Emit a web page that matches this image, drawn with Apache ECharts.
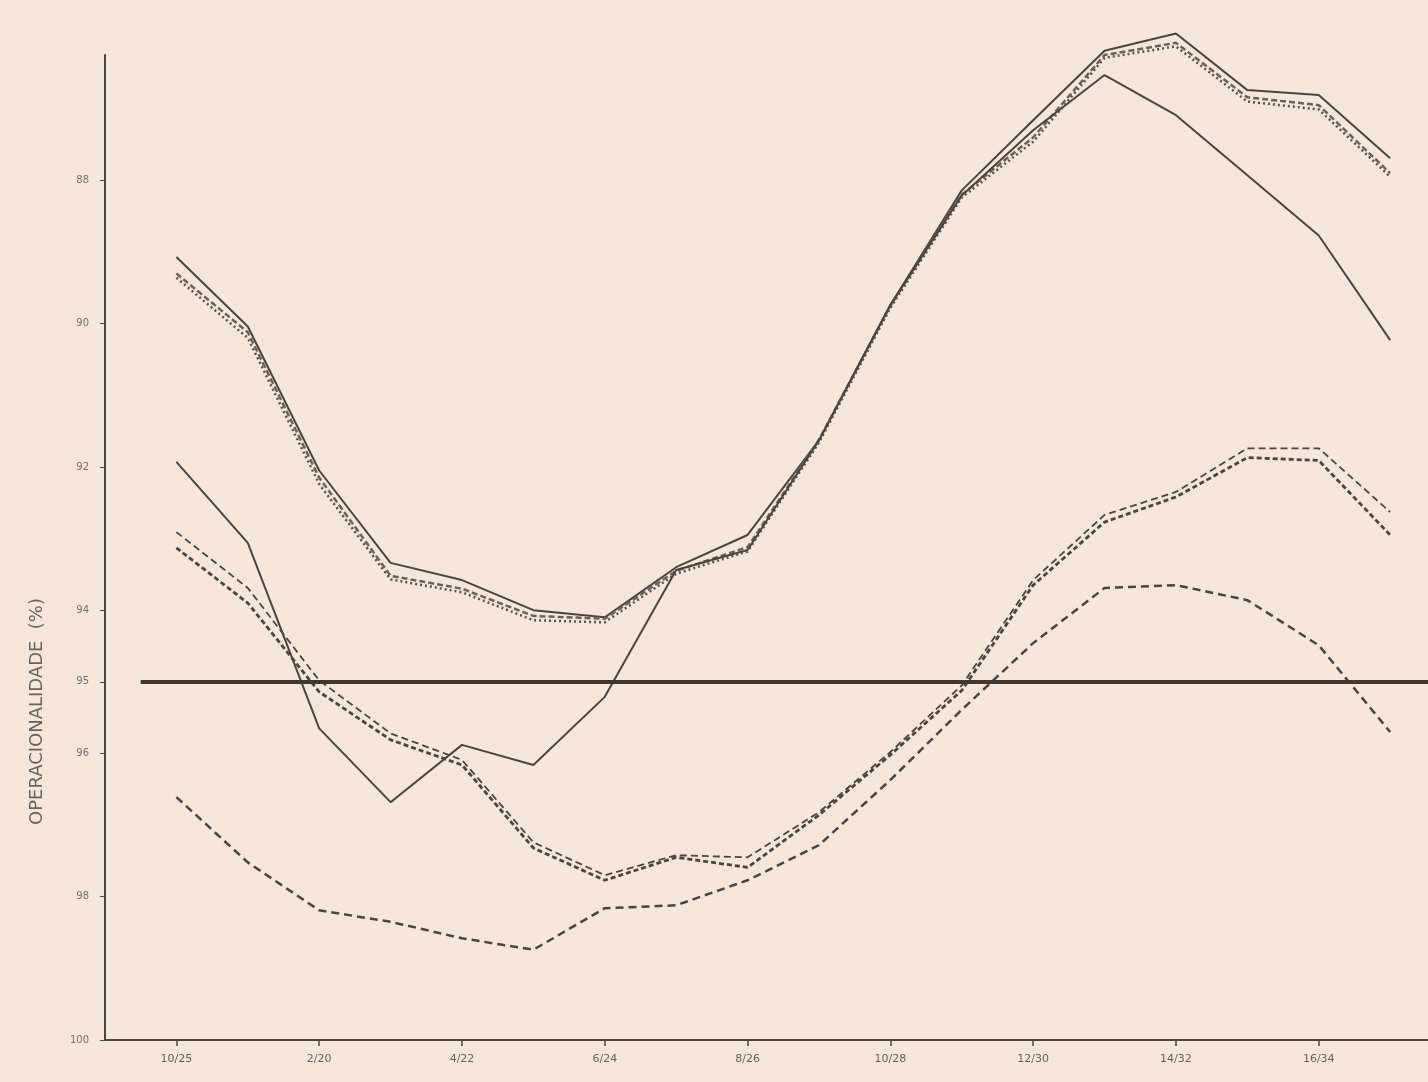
<!DOCTYPE html>
<html>
<head>
<meta charset="utf-8">
<script src="https://cdn.jsdelivr.net/npm/echarts@6/dist/echarts.min.js"></script>
<style>
  html, body { margin: 0; padding: 0; background: #f6e7da; }
  #chart { width: 1428px; height: 1082px; }
</style>
</head>
<body>
<div id="chart"></div>
<script>
// periods (one point every half-label)
const xLabels = ['10/25', '2/20', '4/22', '6/24', '8/26', '10/28', '12/30', '14/32', '16/34'];
const yTicks = [88, 90, 92, 94, 95, 96, 98, 100];
const limit = 95;

// upper group
const upperSolid  = [89.07, 90.04, 92.05, 93.34, 93.58, 94.00, 94.10, 93.40, 92.95, 91.63, 89.74, 88.14, 87.16, 86.19, 85.95, 86.74, 86.81, 87.69];
const upperDash   = [89.30, 90.12, 92.15, 93.52, 93.70, 94.08, 94.12, 93.45, 93.12, 91.62, 89.75, 88.20, 87.40, 86.25, 86.08, 86.84, 86.95, 87.90];
const upperDot    = [89.36, 90.20, 92.24, 93.57, 93.75, 94.14, 94.17, 93.49, 93.18, 91.66, 89.78, 88.24, 87.46, 86.29, 86.13, 86.90, 87.01, 87.95];
// solid line that crosses from the lower group to the upper one
const crossSolid  = [91.93, 93.06, 95.65, 96.68, 95.88, 96.16, 95.21, 93.44, 93.16, 91.63, 89.74, 88.21, 87.30, 86.53, 87.09, 87.93, 88.77, 90.23];
// lower group
const lowerDash   = [92.91, 93.69, 94.98, 95.72, 96.09, 97.24, 97.70, 97.42, 97.45, 96.82, 95.98, 95.05, 93.58, 92.67, 92.35, 91.74, 91.74, 92.63];
const lowerDot    = [93.13, 93.90, 95.14, 95.81, 96.16, 97.32, 97.77, 97.45, 97.59, 96.86, 96.02, 95.12, 93.65, 92.77, 92.42, 91.87, 91.91, 92.95];
const bottomDash  = [96.61, 97.52, 98.19, 98.35, 98.58, 98.74, 98.16, 98.12, 97.77, 97.28, 96.37, 95.39, 94.46, 93.69, 93.65, 93.86, 94.49, 95.70];

const ink = '#4b4541';
const pts = arr => arr.map((v, i) => [i, v]);

function line(name, data, type, width, color) {
  return {
    name: name,
    type: 'line',
    data: pts(data),
    symbol: 'none',
    clip: false,
    lineStyle: { color: color || ink, width: width, type: type }
  };
}

const chart = echarts.init(document.getElementById('chart'));
chart.setOption({
  backgroundColor: '#f6e7da',
  animation: false,
  grid: { left: 105, right: 0, top: 55, bottom: 42 },
  xAxis: {
    type: 'value',
    min: -1,
    max: 17.53,
    axisLine: { onZero: false, lineStyle: { color: ink, width: 2 } },
    axisTick: { show: true, length: 6, customValues: [0, 2, 4, 6, 8, 10, 12, 14, 16], lineStyle: { color: ink, width: 1.5 } },
    axisLabel: {
      customValues: [0, 2, 4, 6, 8, 10, 12, 14, 16],
      formatter: v => xLabels[v / 2],
      color: '#6b625c',
      fontSize: 11,
      margin: 14,
      fontFamily: 'DejaVu Sans'
    },
    splitLine: { show: false }
  },
  yAxis: {
    type: 'value',
    inverse: true,
    min: 86.25,
    max: 100,
    axisLine: { show: true, onZero: false, lineStyle: { color: ink, width: 2 } },
    axisTick: { show: true, length: 5, customValues: yTicks, lineStyle: { color: ink } },
    axisLabel: {
      customValues: yTicks,
      color: '#7a706a',
      fontSize: 10,
      margin: 16,
      fontFamily: 'DejaVu Sans'
    },
    splitLine: { show: false }
  },
  graphic: [{
    type: 'text',
    left: 28,
    top: 598,
    rotation: Math.PI / 2,
    style: {
      text: 'OPERACIONALIDADE  (%)',
      fill: '#6b625c',
      font: '18px "DejaVu Sans"'
    }
  }],
  series: [
    line('upperSolid', upperSolid, 'solid', 2),
    line('upperDash', upperDash, [6, 3], 2.5, '#6a625d'),
    line('upperDot', upperDot, [2, 3], 2.5, '#5a524d'),
    line('crossSolid', crossSolid, 'solid', 2),
    line('lowerDash', lowerDash, [7, 4], 1.8),
    line('lowerDot', lowerDot, [5, 3], 2.8),
    Object.assign(line('bottomDash', bottomDash, [8, 5], 2.5), {
      markLine: {
        silent: true,
        symbol: 'none',
        label: { show: false },
        lineStyle: { color: '#3e3835', width: 4, type: 'solid' },
        data: [[{ coord: [-0.5, limit] }, { coord: [17.53, limit] }]]
      }
    })
  ]
});
</script>
</body>
</html>
